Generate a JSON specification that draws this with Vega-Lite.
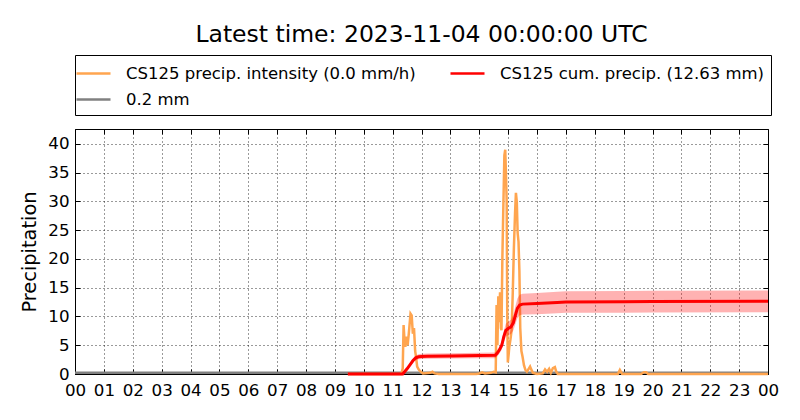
{
  "$schema": "https://vega.github.io/schema/vega-lite/v6.json",
  "width": 693,
  "height": 245,
  "autosize": {"type": "none"},
  "padding": {"left": 75, "top": 129, "right": 32, "bottom": 46},
  "background": "white",
  "title": {"text": "Latest time: 2023-11-04 00:00:00 UTC", "font": "DejaVu Sans", "fontSize": 23.5, "fontWeight": "normal", "color": "black", "anchor": "middle", "offset": 8},
  "config": {
    "font": "DejaVu Sans",
    "view": {"stroke": "black", "strokeWidth": 1},
    "axis": {
      "labelFont": "DejaVu Sans", "labelFontSize": 16.7, "labelColor": "black",
      "tickColor": "black", "tickSize": -5, "tickWidth": 1,
      "domain": false, "labelFlush": false, "labelOverlap": false,
      "gridColor": "black", "gridDash": [1, 3], "gridOpacity": 1, "gridWidth": 0.8,
      "titleFont": "DejaVu Sans", "titleFontSize": 19.4, "titleFontWeight": "normal", "titleColor": "black"
    },
    "legend": {
      "orient": "none", "legendX": 0, "legendY": -74, "columns": 2,
      "symbolType": "M-1.7,0H1.7", "symbolSize": 400, "symbolStrokeWidth": 2.5,
      "labelFont": "DejaVu Sans", "labelFontSize": 16.5, "labelColor": "black", "labelLimit": 0,
      "labelOffset": 21, "columnPadding": 29, "rowPadding": 6,
      "padding": 7, "strokeColor": "black", "fillColor": "white", "cornerRadius": 0
    }
  },
  "datasets": {
    "ref": [{"hour": 0, "v": 0.2}, {"hour": 24, "v": 0.2}],
    "intensity": [
      {"hour": 9.45, "v": 0}, {"hour": 11.3, "v": 0}, {"hour": 11.35, "v": 1}, {"hour": 11.38, "v": 8.5},
      {"hour": 11.41, "v": 6}, {"hour": 11.44, "v": 4.7}, {"hour": 11.48, "v": 6.5}, {"hour": 11.52, "v": 5},
      {"hour": 11.56, "v": 7}, {"hour": 11.62, "v": 10.5}, {"hour": 11.66, "v": 10.2}, {"hour": 11.7, "v": 7},
      {"hour": 11.74, "v": 8}, {"hour": 11.78, "v": 4}, {"hour": 11.81, "v": 3}, {"hour": 11.85, "v": 1.3},
      {"hour": 11.9, "v": 0.8}, {"hour": 11.95, "v": 0.5}, {"hour": 12.05, "v": 0.1}, {"hour": 12.3, "v": 0.2},
      {"hour": 12.38, "v": 0.4}, {"hour": 12.45, "v": 0.1}, {"hour": 12.6, "v": 0}, {"hour": 13.9, "v": 0},
      {"hour": 14.0, "v": 0.1}, {"hour": 14.1, "v": 0.3}, {"hour": 14.2, "v": 0.1}, {"hour": 14.4, "v": 0.2},
      {"hour": 14.5, "v": 0.4}, {"hour": 14.57, "v": 0.3}, {"hour": 14.6, "v": 12}, {"hour": 14.63, "v": 5},
      {"hour": 14.66, "v": 13.5}, {"hour": 14.69, "v": 9}, {"hour": 14.72, "v": 14.2}, {"hour": 14.75, "v": 8},
      {"hour": 14.77, "v": 7.6}, {"hour": 14.8, "v": 20}, {"hour": 14.83, "v": 28}, {"hour": 14.87, "v": 38},
      {"hour": 14.9, "v": 39}, {"hour": 14.93, "v": 34}, {"hour": 14.95, "v": 30}, {"hour": 14.97, "v": 10},
      {"hour": 14.99, "v": 2}, {"hour": 15.02, "v": 3.5}, {"hour": 15.04, "v": 4.7}, {"hour": 15.08, "v": 6},
      {"hour": 15.12, "v": 7.6}, {"hour": 15.16, "v": 14}, {"hour": 15.2, "v": 22}, {"hour": 15.24, "v": 28},
      {"hour": 15.27, "v": 31.5}, {"hour": 15.3, "v": 30}, {"hour": 15.33, "v": 24.5}, {"hour": 15.36, "v": 23},
      {"hour": 15.39, "v": 18}, {"hour": 15.42, "v": 8}, {"hour": 15.46, "v": 4}, {"hour": 15.5, "v": 3},
      {"hour": 15.55, "v": 1.5}, {"hour": 15.6, "v": 0.7}, {"hour": 15.65, "v": 0.4}, {"hour": 15.7, "v": 0.8},
      {"hour": 15.76, "v": 1.3}, {"hour": 15.8, "v": 0.8}, {"hour": 15.86, "v": 0.2}, {"hour": 16.0, "v": 0},
      {"hour": 16.2, "v": 0.1}, {"hour": 16.28, "v": 0.8}, {"hour": 16.35, "v": 0.4}, {"hour": 16.42, "v": 0.9},
      {"hour": 16.48, "v": 0.2}, {"hour": 16.55, "v": 1.0}, {"hour": 16.62, "v": 1.2}, {"hour": 16.66, "v": 0.5},
      {"hour": 16.72, "v": 0}, {"hour": 18.8, "v": 0}, {"hour": 18.87, "v": 0.7}, {"hour": 18.95, "v": 0},
      {"hour": 19.6, "v": 0}, {"hour": 19.7, "v": 0.3}, {"hour": 19.78, "v": 0.3}, {"hour": 19.85, "v": 0},
      {"hour": 24, "v": 0}
    ],
    "cum": [
      {"hour": 9.45, "v": 0, "lo": 0, "hi": 0}, {"hour": 11.35, "v": 0, "lo": 0, "hi": 0},
      {"hour": 11.4, "v": 0.3, "lo": 0.26, "hi": 0.35}, {"hour": 11.5, "v": 0.9, "lo": 0.77, "hi": 1.04},
      {"hour": 11.6, "v": 1.6, "lo": 1.36, "hi": 1.84}, {"hour": 11.7, "v": 2.3, "lo": 1.96, "hi": 2.65},
      {"hour": 11.8, "v": 2.8, "lo": 2.38, "hi": 3.22}, {"hour": 11.9, "v": 3.0, "lo": 2.55, "hi": 3.45},
      {"hour": 12.0, "v": 3.05, "lo": 2.59, "hi": 3.51}, {"hour": 12.2, "v": 3.1, "lo": 2.64, "hi": 3.57},
      {"hour": 13.0, "v": 3.15, "lo": 2.68, "hi": 3.62}, {"hour": 14.0, "v": 3.2, "lo": 2.72, "hi": 3.68},
      {"hour": 14.55, "v": 3.25, "lo": 2.76, "hi": 3.74}, {"hour": 14.62, "v": 3.6, "lo": 3.06, "hi": 4.14},
      {"hour": 14.7, "v": 4.2, "lo": 3.57, "hi": 4.83}, {"hour": 14.78, "v": 5.0, "lo": 4.25, "hi": 5.75},
      {"hour": 14.85, "v": 6.5, "lo": 5.53, "hi": 7.48}, {"hour": 14.92, "v": 7.6, "lo": 6.46, "hi": 8.74},
      {"hour": 15.0, "v": 7.9, "lo": 6.72, "hi": 9.09}, {"hour": 15.1, "v": 8.2, "lo": 6.97, "hi": 9.43},
      {"hour": 15.18, "v": 8.9, "lo": 7.57, "hi": 10.24}, {"hour": 15.25, "v": 10.2, "lo": 8.67, "hi": 11.73},
      {"hour": 15.32, "v": 11.4, "lo": 9.69, "hi": 13.11}, {"hour": 15.4, "v": 12.0, "lo": 10.2, "hi": 13.8},
      {"hour": 15.5, "v": 12.15, "lo": 10.33, "hi": 13.97}, {"hour": 16.0, "v": 12.25, "lo": 10.41, "hi": 14.09},
      {"hour": 16.7, "v": 12.45, "lo": 10.58, "hi": 14.32}, {"hour": 17.0, "v": 12.5, "lo": 10.63, "hi": 14.38},
      {"hour": 19.0, "v": 12.55, "lo": 10.67, "hi": 14.43}, {"hour": 20.0, "v": 12.6, "lo": 10.71, "hi": 14.49},
      {"hour": 24.0, "v": 12.63, "lo": 10.74, "hi": 14.52}
    ]
  },
  "layer": [
    {
      "data": {"name": "ref"},
      "mark": {"type": "line", "strokeWidth": 2.5},
      "encoding": {
        "x": {"field": "hour", "type": "quantitative", "scale": {"domain": [0, 24], "nice": false},
              "axis": {"orient": "bottom", "title": null, "values": [0,1,2,3,4,5,6,7,8,9,10,11,12,13,14,15,16,17,18,19,20,21,22,23,24],
                       "labelExpr": "datum.value == 24 ? '00' : (datum.value < 10 ? '0' + datum.value : '' + datum.value)", "labelPadding": 13}},
        "y": {"field": "v", "type": "quantitative", "scale": {"domain": [0, 42.6], "nice": false},
              "axis": {"orient": "left", "title": "Precipitation", "values": [0,5,10,15,20,25,30,35,40], "labelPadding": 11, "titlePadding": 8}},
        "color": {"datum": "0.2 mm", "type": "nominal",
                  "scale": {"domain": ["CS125 precip. intensity (0.0 mm/h)", "0.2 mm", "CS125 cum. precip. (12.63 mm)"], "range": ["#ffa54f", "#808080", "#ff0000"]},
                  "legend": {"title": null}}
      }
    },
    {
      "data": {"name": "intensity"},
      "mark": {"type": "line", "strokeWidth": 2.5},
      "encoding": {
        "x": {"field": "hour", "type": "quantitative",
              "axis": {"orient": "top", "labels": false, "grid": false, "title": null, "values": [0,1,2,3,4,5,6,7,8,9,10,11,12,13,14,15,16,17,18,19,20,21,22,23,24]}},
        "y": {"field": "v", "type": "quantitative",
              "axis": {"orient": "right", "labels": false, "grid": false, "title": null, "values": [0,5,10,15,20,25,30,35,40]}},
        "color": {"datum": "CS125 precip. intensity (0.0 mm/h)", "type": "nominal"}
      }
    },
    {
      "data": {"name": "cum"},
      "mark": {"type": "area", "color": "#ff0000", "opacity": 0.3},
      "encoding": {
        "x": {"field": "hour", "type": "quantitative", "axis": null},
        "y": {"field": "lo", "type": "quantitative", "axis": null},
        "y2": {"field": "hi"}
      }
    },
    {
      "data": {"name": "cum"},
      "mark": {"type": "line", "strokeWidth": 3},
      "encoding": {
        "x": {"field": "hour", "type": "quantitative", "axis": null},
        "y": {"field": "v", "type": "quantitative", "axis": null},
        "color": {"datum": "CS125 cum. precip. (12.63 mm)", "type": "nominal"}
      }
    }
  ],
  "resolve": {"axis": {"x": "independent", "y": "independent"}}
}
